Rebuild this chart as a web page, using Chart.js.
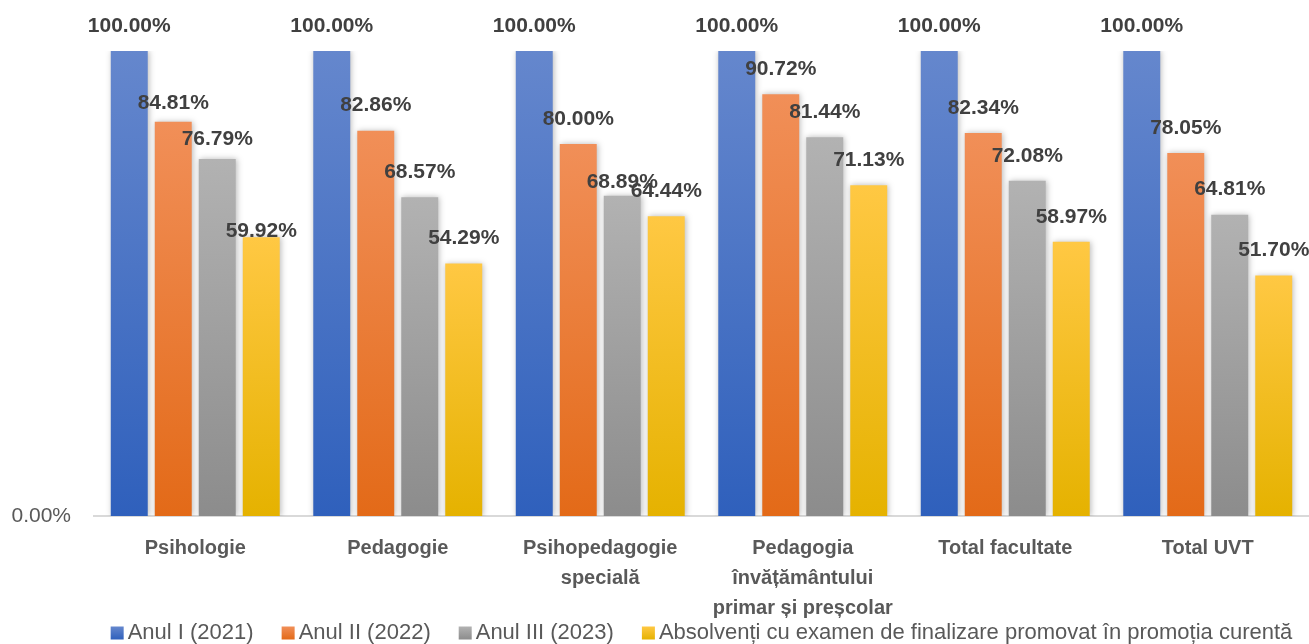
<!DOCTYPE html>
<html><head><meta charset="utf-8">
<script src="https://cdn.jsdelivr.net/npm/chart.js@4.4.1/dist/chart.umd.min.js"></script>
<style>html,body{margin:0;padding:0;background:#fff;} #wrap{width:1309px;height:644px;position:relative}</style>
</head><body><div id="wrap"><canvas id="c" width="1309" height="644"></canvas></div>
<script>
// ---- data ----
const categories = [['Psihologie'], ['Pedagogie'], ['Psihopedagogie', 'specială'], ['Pedagogia', 'învățământului', 'primar și preșcolar'], ['Total facultate'], ['Total UVT']];
const seriesNames = ['Anul I (2021)', 'Anul II (2022)', 'Anul III (2023)', 'Absolvenți cu examen de finalizare promovat în promoția curentă'];
const anulI = [100, 100, 100, 100, 100, 100];
const anulII = [84.81, 82.86, 80.00, 90.72, 82.34, 78.05];
const anulIII = [76.79, 68.57, 68.89, 81.44, 72.08, 64.81];
const absolventi = [59.92, 54.29, 64.44, 71.13, 58.97, 51.70];
const yTickValues = [0];

// ---- styles ----
const FONT = "'Liberation Sans', Arial, sans-serif";
const gradStops = [
  ['#6587CD', '#2F60BC'],
  ['#F18F58', '#E36A18'],
  ['#B2B2B2', '#8C8C8C'],
  ['#FFC843', '#E5B200']
];
// small vertical nudges (px) for a few labels that sit lower in the original
const labelNudge = {'1-0': 7, '2-0': 5, '3-0': 19, '2-2': 12};

function barGradient(si) {
  return function (ctx) {
    const chart = ctx.chart;
    const area = chart.chartArea;
    if (!area || ctx.type !== 'data') return gradStops[si][1];
    const y = chart.scales.y.getPixelForValue(ctx.raw);
    const g = chart.ctx.createLinearGradient(0, y, 0, area.bottom);
    g.addColorStop(0, gradStops[si][0]);
    g.addColorStop(1, gradStops[si][1]);
    return g;
  };
}

const seriesData = [anulI, anulII, anulIII, absolventi];
const datasets = seriesData.map((d, i) => ({
  label: seriesNames[i],
  data: d,
  backgroundColor: barGradient(i),
  borderWidth: 0,
  categoryPercentage: 0.869,
  barPercentage: 0.84
}));

const barFx = {
  id: 'barFx',
  beforeDatasetsDraw(chart) {
    const c = chart.ctx;
    c.save();
    c.shadowColor = 'rgba(0,0,0,0.28)';
    c.shadowBlur = 6;
    c.shadowOffsetX = 1;
    c.shadowOffsetY = 0;
  },
  afterDatasetsDraw(chart) {
    const c = chart.ctx;
    c.restore();
    c.save();
    c.font = 'bold 21px ' + FONT;
    c.fillStyle = '#404040';
    c.textAlign = 'center';
    c.textBaseline = 'middle';
    chart.data.datasets.forEach((ds, si) => {
      const meta = chart.getDatasetMeta(si);
      meta.data.forEach((bar, i) => {
        const v = ds.data[i];
        const nudge = labelNudge[si + '-' + i] || 0;
        c.fillText(v.toFixed(2) + '%', bar.x, bar.y - 25 + nudge);
      });
    });
    c.restore();
  },
  afterDraw(chart) {
    const c = chart.ctx;
    const area = chart.chartArea;
    c.save();
    c.font = '22px ' + FONT;
    c.textBaseline = 'middle';
    const box = 13, gapBox = 4, gapItem = 28;
    const widths = chart.data.datasets.map(ds => box + gapBox + c.measureText(ds.label).width);
    const total = widths.reduce((a, b) => a + b, 0) + gapItem * (widths.length - 1);
    let x = (area.left + area.right) / 2 - total / 2;
    const y = 633;
    chart.data.datasets.forEach((ds, si) => {
      const g = c.createLinearGradient(0, y - box / 2, 0, y + box / 2);
      g.addColorStop(0, gradStops[si][0]);
      g.addColorStop(1, gradStops[si][1]);
      c.fillStyle = g;
      c.fillRect(x, y - box / 2, box, box);
      c.fillStyle = '#595959';
      c.textAlign = 'left';
      c.fillText(ds.label, x + box + gapBox, y);
      x += widths[si] + gapItem;
    });
    c.restore();
  }
};

new Chart(document.getElementById('c'), {
  type: 'bar',
  data: { labels: categories, datasets },
  options: {
    responsive: false,
    animation: false,
    layout: { padding: { top: 51, left: 0, right: 0, bottom: 0 } },
    plugins: { legend: { display: false }, tooltip: { enabled: false } },
    scales: {
      x: {
        grid: { display: false, drawTicks: false },
        border: { display: true, color: '#D9D9D9', width: 2 },
        ticks: {
          color: '#595959',
          font: { family: FONT, size: 20, weight: 'bold', lineHeight: 1.5 },
          padding: 17,
          maxRotation: 0,
          autoSkip: false
        },
        afterFit(s) { s.height = 128; }
      },
      y: {
        min: 0, max: 100,
        grid: { display: false, drawTicks: false },
        border: { display: false },
        ticks: {
          stepSize: 100,
          color: '#595959',
          font: { family: FONT, size: 21 },
          padding: 23,
          callback: v => yTickValues.includes(v) ? v.toFixed(2) + '%' : null
        },
        afterFit(s) { s.width = 94; }
      }
    }
  },
  plugins: [barFx]
});
</script></body></html>
